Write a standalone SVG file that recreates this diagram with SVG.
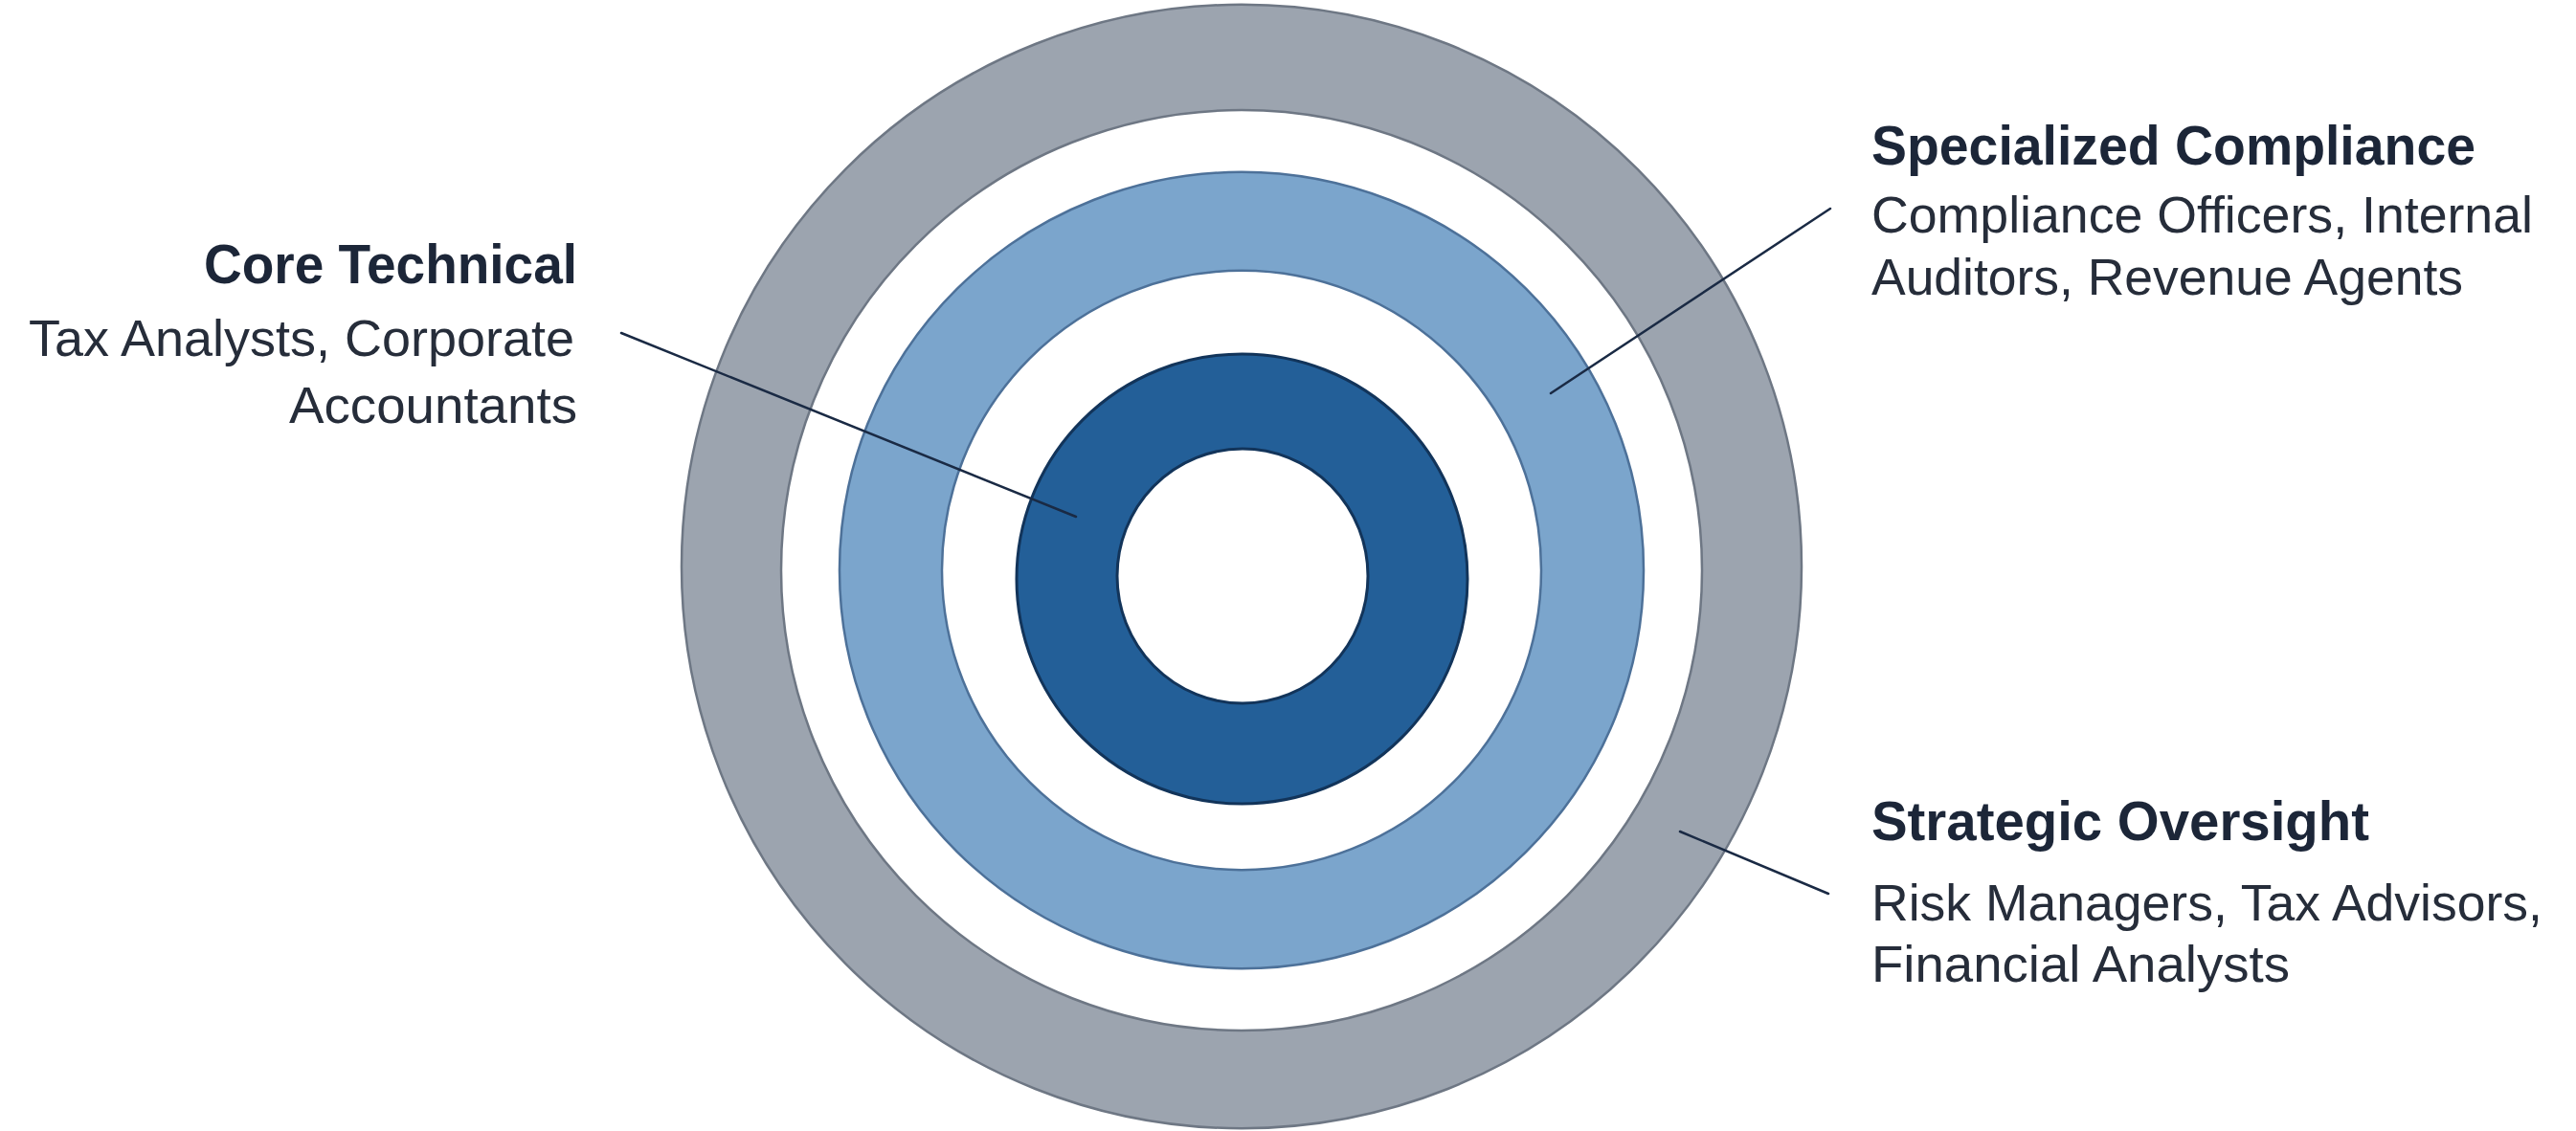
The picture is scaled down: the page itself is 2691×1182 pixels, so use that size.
<svg xmlns="http://www.w3.org/2000/svg" width="2691" height="1182" viewBox="0 0 2691 1182">
  <style>
    .title { font-family: "Liberation Sans", Arial, sans-serif; font-weight: bold; font-size: 57px; fill: #1c2638; }
    .body { font-family: "Liberation Sans", Arial, sans-serif; font-size: 53px; fill: #262d3a; }
    .ring-gray { fill: #9ca4af; stroke: #6e7784; stroke-width: 2.5; fill-rule: evenodd; }
    .ring-light { fill: #7ba5cc; stroke: #4d7199; stroke-width: 2.5; fill-rule: evenodd; }
    .ring-dark { fill: #235f98; stroke: #12345a; stroke-width: 3; fill-rule: evenodd; }
    .leader { stroke: #1a2a44; stroke-width: 2.5; fill: none; stroke-linecap: round; }
  </style>
  <rect width="2691" height="1182" fill="#ffffff"/>

  <g id="ring-strategic-oversight">
    <path class="ring-gray" d="M712,592 a585,587 0 1,0 1170,0 a585,587 0 1,0 -1170,0 Z M816,596 a481,481 0 1,0 962,0 a481,481 0 1,0 -962,0 Z"/>
  </g>
  <g id="ring-specialized-compliance">
    <path class="ring-light" d="M877,596 a420,416 0 1,0 840,0 a420,416 0 1,0 -840,0 Z M984,596 a313,313 0 1,0 626,0 a313,313 0 1,0 -626,0 Z"/>
  </g>
  <g id="ring-core-technical">
    <path class="ring-dark" d="M1062,605 a235.5,235 0 1,0 471,0 a235.5,235 0 1,0 -471,0 Z M1167,602 a131,133 0 1,0 262,0 a131,133 0 1,0 -262,0 Z"/>
  </g>

  <g id="connectors">
    <line class="leader" x1="649" y1="348" x2="1124" y2="540"/>
    <line class="leader" x1="1912" y1="218" x2="1620" y2="411"/>
    <line class="leader" x1="1755" y1="869" x2="1910" y2="934"/>
  </g>

  <g id="label-core-technical">
    <text class="title" x="603" y="296" text-anchor="end" textLength="390" lengthAdjust="spacingAndGlyphs">Core Technical</text>
    <text class="body" x="600" y="372" text-anchor="end" textLength="570" lengthAdjust="spacingAndGlyphs">Tax Analysts, Corporate</text>
    <text class="body" x="603" y="442" text-anchor="end" textLength="301" lengthAdjust="spacingAndGlyphs">Accountants</text>
  </g>

  <g id="label-specialized-compliance">
    <text class="title" x="1955" y="172" textLength="631" lengthAdjust="spacingAndGlyphs">Specialized Compliance</text>
    <text class="body" x="1955" y="243" textLength="691" lengthAdjust="spacingAndGlyphs">Compliance Officers, Internal</text>
    <text class="body" x="1955" y="308" textLength="618" lengthAdjust="spacingAndGlyphs">Auditors, Revenue Agents</text>
  </g>

  <g id="label-strategic-oversight">
    <text class="title" x="1955" y="878" textLength="520" lengthAdjust="spacingAndGlyphs">Strategic Oversight</text>
    <text class="body" x="1955" y="962" textLength="701" lengthAdjust="spacingAndGlyphs">Risk Managers, Tax Advisors,</text>
    <text class="body" x="1955" y="1026" textLength="437" lengthAdjust="spacingAndGlyphs">Financial Analysts</text>
  </g>
</svg>
